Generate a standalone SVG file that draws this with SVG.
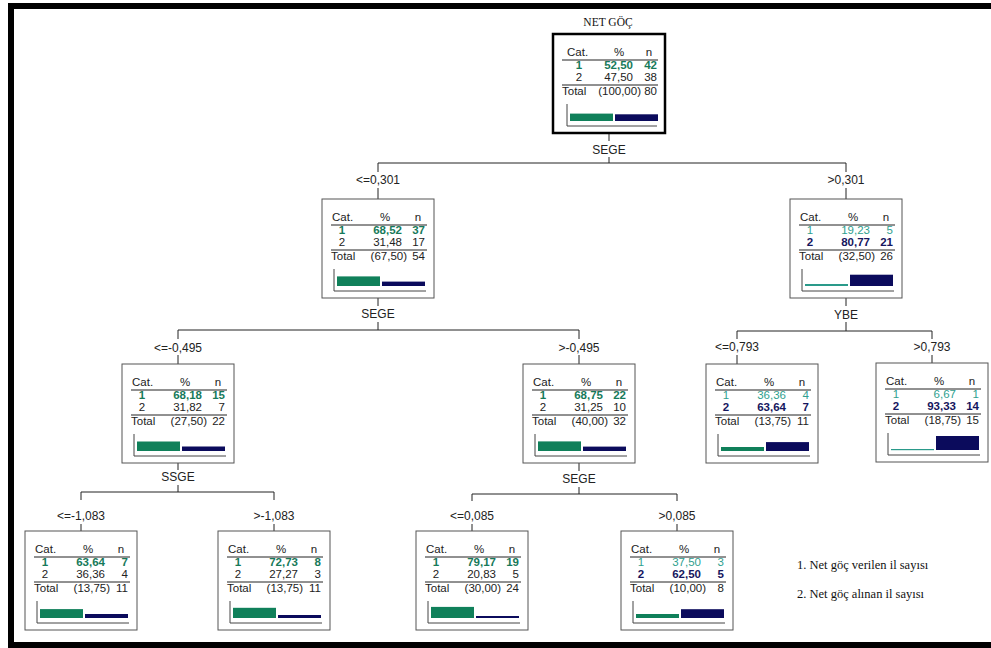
<svg xmlns="http://www.w3.org/2000/svg" width="991" height="648" viewBox="0 0 991 648">
<style>
text{font-family:"Liberation Sans",Arial,sans-serif;font-size:11.5px;fill:#222}
.lb{font-size:12px}
.m{text-anchor:middle}.e{text-anchor:end}
.b{font-weight:bold}
.g{fill:#177a5a}.t{fill:#2f9f8f}.nv{fill:#16165e}
.serif{font-family:"Liberation Serif","Times New Roman",serif;font-size:12.5px;fill:#111}
.ttl{font-family:"Liberation Serif","Times New Roman",serif;font-size:11.5px;fill:#111}
.box{fill:#fff;stroke:#555;stroke-width:1}
.root{fill:#fff;stroke:#000;stroke-width:2.5}
.rule{stroke:#222;stroke-width:1}
.axis{fill:none;stroke:#444;stroke-width:1}
.c{fill:none;stroke:#222;stroke-width:1}
.bg{fill:#10805a}.bt{fill:#2a9a8a}.bn{fill:#0b0b5c}
</style>
<rect width="991" height="648" fill="#fff"/>
<g id="frame" fill="#000">
<rect x="8" y="3" width="983" height="6"/>
<rect x="8" y="3" width="6" height="645"/>
<rect x="8" y="642" width="983" height="6"/>
</g>
<text class="ttl m" x="608" y="26">NET GÖÇ</text>
<g id="connectors">
<path class="c" d="M609,133V141M609,157V163M378,163H846M378,163V172M846,163V172M378,188V199M846,188V199"/>
<path class="c" d="M378,298V306M378,322V330M178,330H579M178,330V339M579,330V339M178,355V364M579,355V364"/>
<path class="c" d="M846,298V306M846,322V331M737,331H932M737,331V339M932,331V339M737,355V364M932,355V363"/>
<path class="c" d="M178,463V470M178,485V492M81,492H274M81,492V500M274,492V500M81,524V531M274,524V531"/>
<path class="c" d="M579,463V471M579,487V494M472,494H677M472,494V501M677,494V501M472,524V531M677,524V531"/>
<text class="m lb" x="609" y="154">SEGE</text>
<text class="m lb" x="378" y="184">&lt;=0,301</text>
<text class="m lb" x="846" y="184">&gt;0,301</text>
<text class="m lb" x="378" y="318">SEGE</text>
<text class="m lb" x="846" y="319">YBE</text>
<text class="m lb" x="178" y="352">&lt;=-0,495</text>
<text class="m lb" x="579" y="352">&gt;-0,495</text>
<text class="m lb" x="737" y="351">&lt;=0,793</text>
<text class="m lb" x="932" y="351">&gt;0,793</text>
<text class="m lb" x="178" y="481">SSGE</text>
<text class="m lb" x="579" y="483">SEGE</text>
<text class="m lb" x="81" y="520">&lt;=-1,083</text>
<text class="m lb" x="274" y="520">&gt;-1,083</text>
<text class="m lb" x="472" y="520">&lt;=0,085</text>
<text class="m lb" x="677" y="520">&gt;0,085</text>
</g>

<g id="node1" transform="translate(553,34)">
<rect class="root" x="0" y="0" width="112" height="99"/>
<text x="14" y="22">Cat.</text><text class="m" x="66" y="22">%</text><text class="m" x="96" y="22">n</text>
<line class="rule" x1="9" y1="26" x2="105" y2="26"/>
<text class="m b g" x="26" y="35">1</text><text class="e b g" x="80" y="35">52,50</text><text class="e b g" x="104" y="35">42</text>
<text class="m" x="26" y="47">2</text><text class="e" x="80" y="47">47,50</text><text class="e" x="104" y="47">38</text>
<line class="rule" x1="9" y1="51" x2="105" y2="51"/>
<text x="9" y="61">Total</text><text class="e" x="88" y="61">(100,00)</text><text class="e" x="104" y="61">80</text>
<path class="axis" d="M14,70V92H104"/>
<rect class="bg" x="17" y="79.6" width="43" height="7.4"/><rect class="bn" x="62" y="80.3" width="43" height="6.7"/>
</g>

<g id="node2" transform="translate(322,199)">
<rect class="box" x="0" y="0" width="112" height="99"/>
<text x="10" y="22">Cat.</text><text class="m" x="63" y="22">%</text><text class="m" x="96" y="22">n</text>
<line class="rule" x1="9" y1="26" x2="105" y2="26"/>
<text class="m b g" x="20" y="35">1</text><text class="e b g" x="80" y="35">68,52</text><text class="e b g" x="103" y="35">37</text>
<text class="m" x="20" y="47">2</text><text class="e" x="80" y="47">31,48</text><text class="e" x="103" y="47">17</text>
<line class="rule" x1="9" y1="51" x2="105" y2="51"/>
<text x="9" y="61">Total</text><text class="e" x="85" y="61">(67,50)</text><text class="e" x="103" y="61">54</text>
<path class="axis" d="M12,70V92H104"/>
<rect class="bg" x="15" y="77.4" width="43" height="9.6"/><rect class="bn" x="60" y="82.6" width="43" height="4.4"/>
</g>

<g id="node3" transform="translate(790,199)">
<rect class="box" x="0" y="0" width="112" height="99"/>
<text x="10" y="22">Cat.</text><text class="m" x="63" y="22">%</text><text class="m" x="96" y="22">n</text>
<line class="rule" x1="9" y1="26" x2="105" y2="26"/>
<text class="m t" x="20" y="35">1</text><text class="e t" x="80" y="35">19,23</text><text class="e t" x="103" y="35">5</text>
<text class="m b nv" x="20" y="47">2</text><text class="e b nv" x="80" y="47">80,77</text><text class="e b nv" x="103" y="47">21</text>
<line class="rule" x1="9" y1="51" x2="105" y2="51"/>
<text x="9" y="61">Total</text><text class="e" x="85" y="61">(32,50)</text><text class="e" x="103" y="61">26</text>
<path class="axis" d="M12,70V92H104"/>
<rect class="bt" x="15" y="85" width="43" height="2"/><rect class="bn" x="60" y="75.7" width="43" height="11.3"/>
</g>

<g id="node4" transform="translate(122,364)">
<rect class="box" x="0" y="0" width="112" height="99"/>
<text x="10" y="22">Cat.</text><text class="m" x="63" y="22">%</text><text class="m" x="96" y="22">n</text>
<line class="rule" x1="9" y1="26" x2="105" y2="26"/>
<text class="m b g" x="20" y="35">1</text><text class="e b g" x="80" y="35">68,18</text><text class="e b g" x="103" y="35">15</text>
<text class="m" x="20" y="47">2</text><text class="e" x="80" y="47">31,82</text><text class="e" x="103" y="47">7</text>
<line class="rule" x1="9" y1="51" x2="105" y2="51"/>
<text x="9" y="61">Total</text><text class="e" x="85" y="61">(27,50)</text><text class="e" x="103" y="61">22</text>
<path class="axis" d="M12,70V92H104"/>
<rect class="bg" x="15" y="77.5" width="43" height="9.5"/><rect class="bn" x="60" y="82.5" width="43" height="4.5"/>
</g>

<g id="node5" transform="translate(523,364)">
<rect class="box" x="0" y="0" width="112" height="99"/>
<text x="10" y="22">Cat.</text><text class="m" x="63" y="22">%</text><text class="m" x="96" y="22">n</text>
<line class="rule" x1="9" y1="26" x2="105" y2="26"/>
<text class="m b g" x="20" y="35">1</text><text class="e b g" x="80" y="35">68,75</text><text class="e b g" x="103" y="35">22</text>
<text class="m" x="20" y="47">2</text><text class="e" x="80" y="47">31,25</text><text class="e" x="103" y="47">10</text>
<line class="rule" x1="9" y1="51" x2="105" y2="51"/>
<text x="9" y="61">Total</text><text class="e" x="85" y="61">(40,00)</text><text class="e" x="103" y="61">32</text>
<path class="axis" d="M12,70V92H104"/>
<rect class="bg" x="15" y="77.4" width="43" height="9.6"/><rect class="bn" x="60" y="82.6" width="43" height="4.4"/>
</g>

<g id="node6" transform="translate(706,364)">
<rect class="box" x="0" y="0" width="112" height="99"/>
<text x="10" y="22">Cat.</text><text class="m" x="63" y="22">%</text><text class="m" x="96" y="22">n</text>
<line class="rule" x1="9" y1="26" x2="105" y2="26"/>
<text class="m t" x="20" y="35">1</text><text class="e t" x="80" y="35">36,36</text><text class="e t" x="103" y="35">4</text>
<text class="m b nv" x="20" y="47">2</text><text class="e b nv" x="80" y="47">63,64</text><text class="e b nv" x="103" y="47">7</text>
<line class="rule" x1="9" y1="51" x2="105" y2="51"/>
<text x="9" y="61">Total</text><text class="e" x="85" y="61">(13,75)</text><text class="e" x="103" y="61">11</text>
<path class="axis" d="M12,70V92H104"/>
<rect class="bg" x="15" y="83" width="43" height="4"/><rect class="bn" x="60" y="78.1" width="43" height="8.9"/>
</g>

<g id="node7" transform="translate(876,363)">
<rect class="box" x="0" y="0" width="112" height="99"/>
<text x="10" y="22">Cat.</text><text class="m" x="63" y="22">%</text><text class="m" x="96" y="22">n</text>
<line class="rule" x1="9" y1="26" x2="105" y2="26"/>
<text class="m t" x="20" y="35">1</text><text class="e t" x="80" y="35">6,67</text><text class="e t" x="103" y="35">1</text>
<text class="m b nv" x="20" y="47">2</text><text class="e b nv" x="80" y="47">93,33</text><text class="e b nv" x="103" y="47">14</text>
<line class="rule" x1="9" y1="51" x2="105" y2="51"/>
<text x="9" y="61">Total</text><text class="e" x="85" y="61">(18,75)</text><text class="e" x="103" y="61">15</text>
<path class="axis" d="M12,70V92H104"/>
<rect class="bt" x="15" y="86" width="43" height="1.2"/><rect class="bn" x="60" y="73" width="43" height="14"/>
</g>

<g id="node8" transform="translate(25,531)">
<rect class="box" x="0" y="0" width="112" height="99"/>
<text x="10" y="22">Cat.</text><text class="m" x="63" y="22">%</text><text class="m" x="96" y="22">n</text>
<line class="rule" x1="9" y1="26" x2="105" y2="26"/>
<text class="m b g" x="20" y="35">1</text><text class="e b g" x="80" y="35">63,64</text><text class="e b g" x="103" y="35">7</text>
<text class="m" x="20" y="47">2</text><text class="e" x="80" y="47">36,36</text><text class="e" x="103" y="47">4</text>
<line class="rule" x1="9" y1="51" x2="105" y2="51"/>
<text x="9" y="61">Total</text><text class="e" x="85" y="61">(13,75)</text><text class="e" x="103" y="61">11</text>
<path class="axis" d="M12,70V92H104"/>
<rect class="bg" x="15" y="78.1" width="43" height="8.9"/><rect class="bn" x="60" y="83" width="43" height="4"/>
</g>

<g id="node9" transform="translate(218,531)">
<rect class="box" x="0" y="0" width="112" height="99"/>
<text x="10" y="22">Cat.</text><text class="m" x="63" y="22">%</text><text class="m" x="96" y="22">n</text>
<line class="rule" x1="9" y1="26" x2="105" y2="26"/>
<text class="m b g" x="20" y="35">1</text><text class="e b g" x="80" y="35">72,73</text><text class="e b g" x="103" y="35">8</text>
<text class="m" x="20" y="47">2</text><text class="e" x="80" y="47">27,27</text><text class="e" x="103" y="47">3</text>
<line class="rule" x1="9" y1="51" x2="105" y2="51"/>
<text x="9" y="61">Total</text><text class="e" x="85" y="61">(13,75)</text><text class="e" x="103" y="61">11</text>
<path class="axis" d="M12,70V92H104"/>
<rect class="bg" x="15" y="76.8" width="43" height="10.2"/><rect class="bn" x="60" y="84" width="43" height="3"/>
</g>

<g id="node10" transform="translate(416,531)">
<rect class="box" x="0" y="0" width="112" height="99"/>
<text x="10" y="22">Cat.</text><text class="m" x="63" y="22">%</text><text class="m" x="96" y="22">n</text>
<line class="rule" x1="9" y1="26" x2="105" y2="26"/>
<text class="m b g" x="20" y="35">1</text><text class="e b g" x="80" y="35">79,17</text><text class="e b g" x="103" y="35">19</text>
<text class="m" x="20" y="47">2</text><text class="e" x="80" y="47">20,83</text><text class="e" x="103" y="47">5</text>
<line class="rule" x1="9" y1="51" x2="105" y2="51"/>
<text x="9" y="61">Total</text><text class="e" x="85" y="61">(30,00)</text><text class="e" x="103" y="61">24</text>
<path class="axis" d="M12,70V92H104"/>
<rect class="bg" x="15" y="75.9" width="43" height="11.1"/><rect class="bn" x="60" y="85" width="43" height="2"/>
</g>

<g id="node11" transform="translate(621,531)">
<rect class="box" x="0" y="0" width="112" height="99"/>
<text x="10" y="22">Cat.</text><text class="m" x="63" y="22">%</text><text class="m" x="96" y="22">n</text>
<line class="rule" x1="9" y1="26" x2="105" y2="26"/>
<text class="m t" x="20" y="35">1</text><text class="e t" x="80" y="35">37,50</text><text class="e t" x="103" y="35">3</text>
<text class="m b nv" x="20" y="47">2</text><text class="e b nv" x="80" y="47">62,50</text><text class="e b nv" x="103" y="47">5</text>
<line class="rule" x1="9" y1="51" x2="105" y2="51"/>
<text x="9" y="61">Total</text><text class="e" x="85" y="61">(10,00)</text><text class="e" x="103" y="61">8</text>
<path class="axis" d="M12,70V92H104"/>
<rect class="bg" x="15" y="83" width="43" height="4"/><rect class="bn" x="60" y="78.2" width="43" height="8.8"/>
</g>

<g id="legend">
<text class="serif" x="797" y="569">1. Net göç verilen il sayısı</text>
<text class="serif" x="797" y="598">2. Net göç alınan il sayısı</text>
</g>
</svg>
